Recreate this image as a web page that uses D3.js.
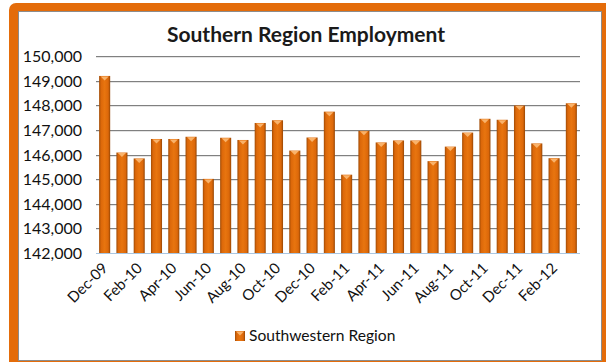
<!DOCTYPE html>
<html><head><meta charset="utf-8">
<script src="https://cdn.jsdelivr.net/npm/d3@7"></script>
<style>body{margin:0;background:#fff} svg{display:block}</style>
</head><body><svg id="c" width="606" height="362"></svg>
<script>
const months = ["Dec-09","Jan-10","Feb-10","Mar-10","Apr-10","May-10","Jun-10","Jul-10","Aug-10","Sep-10","Oct-10","Nov-10",
  "Dec-10","Jan-11","Feb-11","Mar-11","Apr-11","May-11","Jun-11","Jul-11","Aug-11","Sep-11","Oct-11","Nov-11",
  "Dec-11","Jan-12","Feb-12","Mar-12"];
const values = [149190,146080,145840,146630,146630,146720,145010,146680,146590,147280,147390,146160,
  146690,147740,145180,146960,146490,146570,146570,145730,146320,146890,147450,147410,
  147990,146450,145850,148080];
const yTicks = [142000,143000,144000,145000,146000,147000,148000,149000,150000];
const xTickLabels = ["Dec-09","Feb-10","Apr-10","Jun-10","Aug-10","Oct-10","Dec-10","Feb-11","Apr-11","Jun-11","Aug-11","Oct-11","Dec-11","Feb-12"];
const titleText = "Southern Region Employment";
const seriesName = "Southwestern Region";

const svg = d3.select("#c");
const font = "Lato, 'Open Sans', sans-serif";

const defs = svg.append("defs");
const g1 = defs.append("linearGradient").attr("id","barG").attr("x1","0").attr("x2","1").attr("y1","0").attr("y2","0");
[["0%","#a04b05"],["18%","#dc680a"],["50%","#e8750f"],["82%","#dc680a"],["100%","#964604"]].forEach(([o,c])=>g1.append("stop").attr("offset",o).attr("stop-color",c));

// frame
svg.append("rect").attr("x",9).attr("y",3).attr("width",610).attr("height",370).attr("rx",7).attr("fill","#e46c0a");
svg.append("rect").attr("x",18.5).attr("y",11.5).attr("width",583).attr("height",349).attr("fill","#fff").attr("stroke","#8c8c8c").attr("stroke-width",1);

const x = d3.scaleBand().domain(months).range([96,580]).paddingInner(0.36).paddingOuter(0.18);
const y = d3.scaleLinear().domain([142000,150000]).range([253,56]);

// gridlines
svg.append("g").selectAll("line.sh").data(yTicks.slice(1)).join("line")
  .attr("x1",96).attr("x2",580).attr("y1",d=>Math.round(y(d))+1.5).attr("y2",d=>Math.round(y(d))+1.5)
  .attr("stroke","#e4e4e4").attr("stroke-width",1);
svg.append("g").selectAll("line.g").data(yTicks.slice(1)).join("line")
  .attr("x1",96).attr("x2",580).attr("y1",d=>Math.round(y(d))+0.5).attr("y2",d=>Math.round(y(d))+0.5)
  .attr("stroke","#808080").attr("stroke-width",1);

// y axis labels
const yAxis = d3.axisLeft(y).tickValues(yTicks).tickFormat(d3.format(",")).tickSize(0).tickPadding(0);
const ya = svg.append("g").attr("transform","translate(82,0)").call(yAxis);
ya.select(".domain").remove();
ya.selectAll("text").attr("font-family",font).attr("font-size",16).attr("fill","#111").attr("dy","0.35em");

// bars
const bars = svg.append("g").selectAll("g").data(values).join("g");
bars.append("rect")
  .attr("x",(d,i)=>x(months[i])).attr("width",x.bandwidth())
  .attr("y",d=>y(d)).attr("height",d=>y(142000)-y(d))
  .attr("fill","url(#barG)");
bars.append("path")
  .attr("d",(d,i)=>{const x0=x(months[i]), w=x.bandwidth(), t=y(d);
    return `M${x0+1.5},${t+0.5} L${x0+w-1.5},${t+0.5} L${x0+w/2},${t+4.5} Z`;})
  .attr("fill","#f9b26a");

// baseline
svg.append("line").attr("x1",96).attr("x2",580).attr("y1",253.5).attr("y2",253.5).attr("stroke","#a9c6e2").attr("stroke-width",1);

// x labels
svg.append("g").selectAll("text").data(xTickLabels).join("text")
  .attr("transform",d=>`translate(${x(d)+x.bandwidth()/2+4},269) rotate(-45)`)
  .attr("text-anchor","end")
  .attr("font-family",font).attr("font-size",15).attr("fill","#111")
  .text(d=>d);

// title
svg.append("text").attr("x",306).attr("y",42).attr("text-anchor","middle")
  .attr("font-family",font).attr("font-weight",700).attr("font-size",21).attr("fill","#1a1a1a").text(titleText);

// legend
const lg = svg.append("g");
lg.append("rect").attr("x",235).attr("y",331).attr("width",10).attr("height",10).attr("fill","url(#barG)");
lg.append("path").attr("d","M236,331.5 L244,331.5 L240,335.5 Z").attr("fill","#f9b26a");
lg.append("text").attr("x",249).attr("y",340.5).attr("font-family",font).attr("font-size",15.6).attr("fill","#111").text(seriesName);
</script>
</body></html>
